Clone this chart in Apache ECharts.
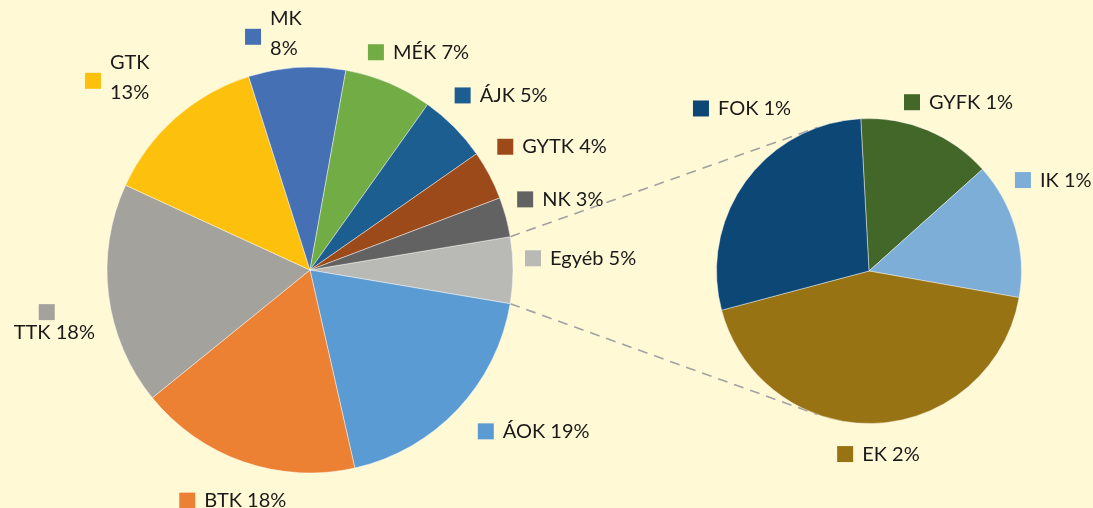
<!DOCTYPE html>
<html>
<head>
<meta charset="utf-8">
<script src="https://cdn.jsdelivr.net/npm/echarts/dist/echarts.min.js"></script>
<style>
  html, body { margin: 0; padding: 0; background: #FFF9D6; }
  #main { width: 1093px; height: 508px; }
</style>
</head>
<body>
<div id="main"></div>
<script>
// bal oldali kör
let mainNames = ['Egyéb', 'ÁOK', 'BTK', 'TTK', 'GTK', 'MK', 'MÉK', 'ÁJK', 'GYTK', 'NK'];
let mainValues = [5.28, 18.8, 17.7, 17.7, 13.25, 7.72, 7.0, 5.47, 3.92, 3.15];
// jobb oldali kör: az "Egyéb" bontása
let subNames = ['GYFK', 'IK', 'EK', 'FOK'];
let subValues = [0.75, 0.76, 2.27, 1.49];

let mainColors = ['#B9B9B5', '#5B9BD3', '#EC8133', '#A4A29D', '#FCC00D', '#4571B4', '#72AC45', '#1B5E8F', '#9D4A1B', '#626262'];
let subColors = ['#426729', '#7CAED8', '#987314', '#0D4776'];

window.onload = function () {
  let chart = echarts.init(document.getElementById('main'));

  let pieL = { cx: 310, cy: 270, r: 203, start: 9.45 };
  let pieR = { cx: 869, cy: 271, r: 152.5, start: 93.1 };

  let twoLine = ['MK', 'GTK'];   // marker mellett két sor
  let stacked = ['TTK'];         // marker felül, szöveg alatta
  // Excel a címkéket kicsit elmozgatta
  let nudge = {
    'MK': [-22, 5], 'GTK': [-24, -1], 'TTK': [0, 21], 'ÁOK': [33, -21], 'Egyéb': [0, -14],
    'MÉK': [14, 5], 'ÁJK': [10, 3], 'NK': [0, -5], 'GYTK': [5, 0], 'BTK': [2, 0],
    'FOK': [43, -41], 'GYFK': [15, 9], 'IK': [-12, -37], 'EK': [2, 5]
  };

  function sum(a) { return a.reduce(function (s, v) { return s + v; }, 0); }

  function richFor(colors) {
    let font = { fontFamily: 'Lato', fontSize: 20, color: '#1a1a1a' };
    let rich = {
      t: Object.assign({ lineHeight: 24, padding: [0, 0, 0, 9] }, font),
      t1: Object.assign({ lineHeight: 20, padding: [0, 0, 0, 9] }, font),
      t2: Object.assign({ lineHeight: 30, padding: [0, 0, 0, 9], verticalAlign: 'bottom' }, font),
      t0: Object.assign({ lineHeight: 24 }, font),
      sp: { width: 16, height: 16 },
      sp2: { width: 25, height: 16 }
    };
    colors.forEach(function (c, i) {
      rich['m' + i] = { width: 16, height: 16, backgroundColor: c };
      rich['mt' + i] = { width: 16, height: 16, backgroundColor: c, verticalAlign: 'top' };
    });
    return rich;
  }

  function formatter(p) {
    let pct = Math.round(p.value) + '%';
    let i = p.dataIndex;
    if (twoLine.indexOf(p.name) >= 0) {
      return '{sp|}{t1|' + p.name + '}\n{mt' + i + '|}{t2|' + pct + '}';
    }
    if (stacked.indexOf(p.name) >= 0) {
      return '{sp2|}{m' + i + '|}\n{t0|' + p.name + ' ' + pct + '}';
    }
    return '{m' + i + '|}{t|' + p.name + ' ' + pct + '}';
  }

  // címke a szelet középszögénél, a kör szélén kívül
  function makeLayout(geo, values, names) {
    let total = sum(values);
    let mids = [];
    let cum = 0;
    values.forEach(function (v) {
      mids.push(geo.start - (cum + v / 2) / total * 360);
      cum += v;
    });
    return function (p) {
      let i = p.dataIndex;
      let a = mids[i] * Math.PI / 180;
      let c = Math.cos(a), s = Math.sin(a);
      let w = p.labelRect.width, h = p.labelRect.height;
      let R = geo.r + 12 + w / 2 * Math.abs(c) + h / 2 * Math.abs(s);
      let nd = nudge[names[i]] || [0, 0];
      return {
        x: geo.cx + R * c - w / 2 + nd[0],
        y: geo.cy - R * s - h / 2 + nd[1],
        align: 'left',
        verticalAlign: 'top'
      };
    };
  }

  // szaggatott összekötő vonalak: Egyéb szelet széle -> jobb kör érintője
  function connector(angleDeg, upper) {
    let a = angleDeg * Math.PI / 180;
    let px = pieL.cx + pieL.r * Math.cos(a);
    let py = pieL.cy - pieL.r * Math.sin(a);
    let dx = pieR.cx - px, dy = pieR.cy - py;
    let d = Math.sqrt(dx * dx + dy * dy);
    let phi = Math.atan2(dy, dx);
    let alpha = Math.asin(pieR.r / d);
    let len = Math.sqrt(d * d - pieR.r * pieR.r);
    let dir = upper ? phi - alpha : phi + alpha;
    return {
      type: 'line',
      z: 0,
      shape: { x1: px, y1: py, x2: px + len * Math.cos(dir), y2: py + len * Math.sin(dir) },
      style: { stroke: '#A2A2A2', lineWidth: 1.6, lineDash: [10, 7] }
    };
  }

  let egyebEnd = pieL.start - mainValues[0] / sum(mainValues) * 360;

  let option = {
    backgroundColor: '#FFF9D6',
    animation: false,
    graphic: {
      elements: [connector(pieL.start, true), connector(egyebEnd, false)]
    },
    series: [
      {
        type: 'pie',
        center: [pieL.cx, pieL.cy],
        radius: [0, pieL.r],
        startAngle: pieL.start,
        clockwise: true,
        avoidLabelOverlap: false,
        z: 2,
        label: { show: true, position: 'inside', formatter: formatter, rich: richFor(mainColors), overflow: 'none' },
        labelLine: { show: false },
        labelLayout: makeLayout(pieL, mainValues, mainNames),
        itemStyle: { borderColor: 'rgba(255,255,255,0.55)', borderWidth: 0.8 },
        emphasis: { disabled: true },
        data: mainNames.map(function (n, i) {
          return { name: n, value: mainValues[i], itemStyle: { color: mainColors[i] } };
        })
      },
      {
        type: 'pie',
        center: [pieR.cx, pieR.cy],
        radius: [0, pieR.r],
        startAngle: pieR.start,
        clockwise: true,
        avoidLabelOverlap: false,
        z: 2,
        label: { show: true, position: 'inside', formatter: formatter, rich: richFor(subColors), overflow: 'none' },
        labelLine: { show: false },
        labelLayout: makeLayout(pieR, subValues, subNames),
        itemStyle: { borderColor: 'rgba(255,255,255,0.55)', borderWidth: 0.8 },
        emphasis: { disabled: true },
        data: subNames.map(function (n, i) {
          return { name: n, value: subValues[i], itemStyle: { color: subColors[i] } };
        })
      }
    ]
  };

  chart.setOption(option);
};
</script>
</body>
</html>
